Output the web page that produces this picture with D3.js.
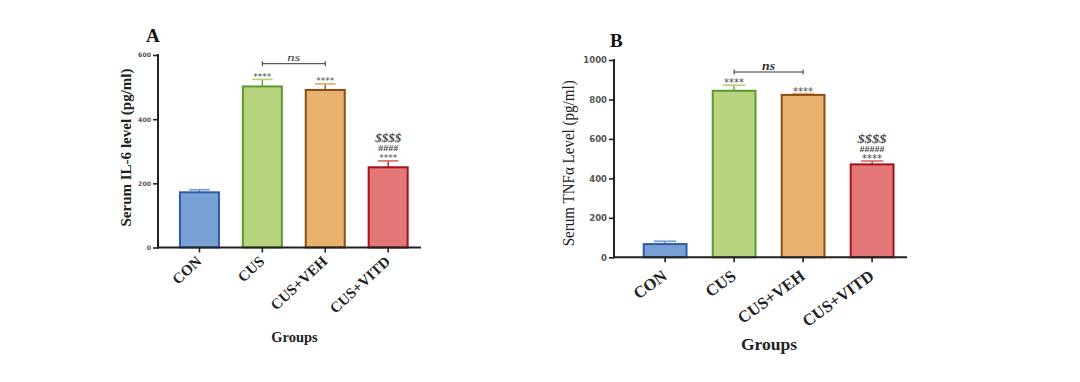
<!DOCTYPE html>
<html><head><meta charset="utf-8">
<script src="https://cdn.jsdelivr.net/npm/d3@7"></script>
<style>body{margin:0;background:#fff}svg{display:block}</style>
</head><body>
<svg id="c" width="1080" height="382"></svg>
<script>
const groups = ["CON","CUS","CUS+VEH","CUS+VITD"];
const il6Mean = [172, 502, 491, 250];
const il6Err = [8, 22, 19, 20];
const tnfMean = [67, 844, 823, 471];
const tnfErr = [14, 28, 6, 17];
const il6Ticks = [0, 200, 400, 600];
const tnfTicks = [0, 200, 400, 600, 800, 1000];
const il6Marks = [[], ["****"], ["****"], ["****","####","$$$$"]];
const tnfMarks = [[], ["****"], ["****"], ["****","#####","$$$$"]];
const fills = ["#7aa1d6","#b8d47f","#e8b16d","#e37676"];
const strokes = ["#2d5ca6","#5b9a2b","#8b4d12","#a3121d"];

const svg = d3.select("#c");
const serif = "'Liberation Serif','DejaVu Serif',serif";
const sans = "'DejaVu Sans',sans-serif";

function panel(o){
  const g = svg.append("g");
  const y = d3.scaleLinear().domain([0, o.ymax]).range([o.y0, o.y1]);
  const p = 1 - o.bw/o.step;
  const x = d3.scaleBand().domain(groups).range([o.rs, o.rs + o.step*4]).paddingInner(p).paddingOuter(p/2);
  groups.forEach((gname,i)=>{
    const m = o.mean[i], e = o.err[i];
    const bx = x(gname), w = x.bandwidth();
    const cx = bx + w/2;
    const capY = y(m+e);
    g.append("line").attr("x1",cx).attr("x2",cx).attr("y1",y(m)).attr("y2",capY).attr("stroke",strokes[i]).attr("stroke-width",1.3);
    g.append("line").attr("x1",cx-w*0.25).attr("x2",cx+w*0.25).attr("y1",capY).attr("y2",capY).attr("stroke",fills[i]).attr("stroke-width",1.8);
    g.append("rect").attr("x",bx+1).attr("y",y(m)).attr("width",w-2).attr("height",y(0)-y(m))
      .attr("fill",fills[i]).attr("stroke",strokes[i]).attr("stroke-width",2);
    o.marks[i].forEach((t)=>{
      const type = t[0];
      const cfg = o.mk[type];
      const tx = g.append("text").attr("x",cx).attr("y",capY + cfg.dy)
        .attr("text-anchor","middle").attr("font-family", type==="*"? sans : serif)
        .attr("font-size", cfg.fs)
        .attr("font-style", type==="$"?"italic":"normal")
        .attr("font-weight", type==="*"?"normal":"bold")
        .attr("fill","#4a4a4a").text(t);
      if (cfg.len) tx.attr("textLength", cfg.len*(t.length/4)).attr("lengthAdjust","spacingAndGlyphs");
    });
  });
  // ns bracket
  const c1 = x("CUS")+x.bandwidth()/2, c2 = x("CUS+VEH")+x.bandwidth()/2;
  g.append("path").attr("d",`M${c1},${o.nsY-2.5}V${o.nsY+2.5}M${c1},${o.nsY}H${c2}M${c2},${o.nsY-2.5}V${o.nsY+2.5}`)
    .attr("stroke","#333").attr("stroke-width",1).attr("fill","none");
  g.append("text").attr("x",(c1+c2)/2).attr("y",o.nsY-2.5).attr("text-anchor","middle").attr("font-family",serif)
    .attr("font-style","italic").attr("font-weight",o.nsWeight).attr("font-size",o.nsSize).attr("fill","#333")
    .attr("textLength",o.nsLen).attr("lengthAdjust","spacingAndGlyphs").text("ns");
  // axes
  const ya = d3.axisLeft(y).tickValues(o.ticks).tickSize(5).tickPadding(2).tickFormat(d3.format("d"));
  const yg = g.append("g").attr("transform",`translate(${o.x0},0)`).call(ya);
  yg.select(".domain").attr("stroke","#222").attr("stroke-width",2).attr("d",`M0,${o.y0+1}V${o.y1-1}`);
  yg.selectAll(".tick line").attr("stroke","#222").attr("stroke-width",1.6);
  yg.selectAll(".tick text").attr("font-family",sans).attr("font-weight","bold").attr("font-size",o.tickSize).attr("fill","#555");
  const xa = d3.axisBottom(x).tickSize(5).tickSizeOuter(0).tickFormat("");
  const xg = g.append("g").attr("transform",`translate(0,${o.y0})`).call(xa);
  xg.select(".domain").attr("stroke","#222").attr("stroke-width",2).attr("d",`M${o.x0-1},0H${o.xEnd}`);
  xg.selectAll(".tick line").attr("stroke","#222").attr("stroke-width",1.6);
  groups.forEach(gname=>{
    const cx = x(gname)+x.bandwidth()/2 + o.lblDx;
    g.append("text").attr("transform",`translate(${cx},${o.y0+o.lblOff}) rotate(${-o.lblAng})`)
      .attr("text-anchor","end").attr("font-family",serif).attr("font-weight","bold")
      .attr("font-size",o.lblSize).attr("fill","#222").text(gname);
  });
  // titles
  g.append("text").attr("transform",`translate(${o.ytX},${o.ytY}) rotate(-90)`).attr("text-anchor","middle")
    .attr("font-family",serif).attr("font-weight",o.ytWeight).attr("font-size",o.ytSize).attr("fill","#222")
    .attr("textLength",o.ytLen).attr("lengthAdjust","spacingAndGlyphs").text(o.ytitle);
  g.append("text").attr("x",o.gx).attr("y",o.gy).attr("text-anchor","middle").attr("font-family",serif)
    .attr("font-weight","bold").attr("font-size",o.gSize).attr("fill","#222").text("Groups");
  g.append("text").attr("x",o.lx).attr("y",o.ly).attr("font-family",serif).attr("font-weight","bold")
    .attr("font-size",o.lSize).attr("fill","#111").text(o.letter);
}

panel({x0:158, y0:247.5, y1:55, ymax:600, rs:168, step:62.9, bw:41, xEnd:421,
  mean:il6Mean, err:il6Err, marks:il6Marks, ticks:il6Ticks,
  mk:{"*":{fs:9,dy:0.5}, "#":{fs:7.5,dy:-10,len:20}, "$":{fs:11.5,dy:-18.5,len:26}},
  nsY:63.7, nsSize:10, nsLen:13, nsWeight:"normal", tickSize:6.2,
  lblDx:3, lblOff:15, lblAng:43, lblSize:15,
  ytX:131, ytY:147.5, ytLen:158, ytitle:"Serum IL-6 level (pg/ml)", ytSize:15, ytWeight:"bold",
  gx:294.5, gy:342, gSize:14.5, lx:146, ly:41.5, letter:"A", lSize:19});

panel({x0:614, y0:257.3, y1:60, ymax:1000, rs:630.6, step:69, bw:44.8, xEnd:907,
  mean:tnfMean, err:tnfErr, marks:tnfMarks, ticks:tnfTicks,
  mk:{"*":{fs:10,dy:1}, "#":{fs:8,dy:-9.5,len:20}, "$":{fs:12.5,dy:-18.5,len:29}},
  nsY:72, nsSize:12, nsLen:13, nsWeight:"bold", tickSize:8.5,
  lblDx:3, lblOff:21, lblAng:36, lblSize:16.5,
  ytX:574, ytY:163.3, ytLen:166, ytitle:"Serum TNFα Level (pg/ml)", ytSize:17, ytWeight:"normal",
  gx:769, gy:350, gSize:17.5, lx:610, ly:46.7, letter:"B", lSize:19});
</script>
</body></html>
